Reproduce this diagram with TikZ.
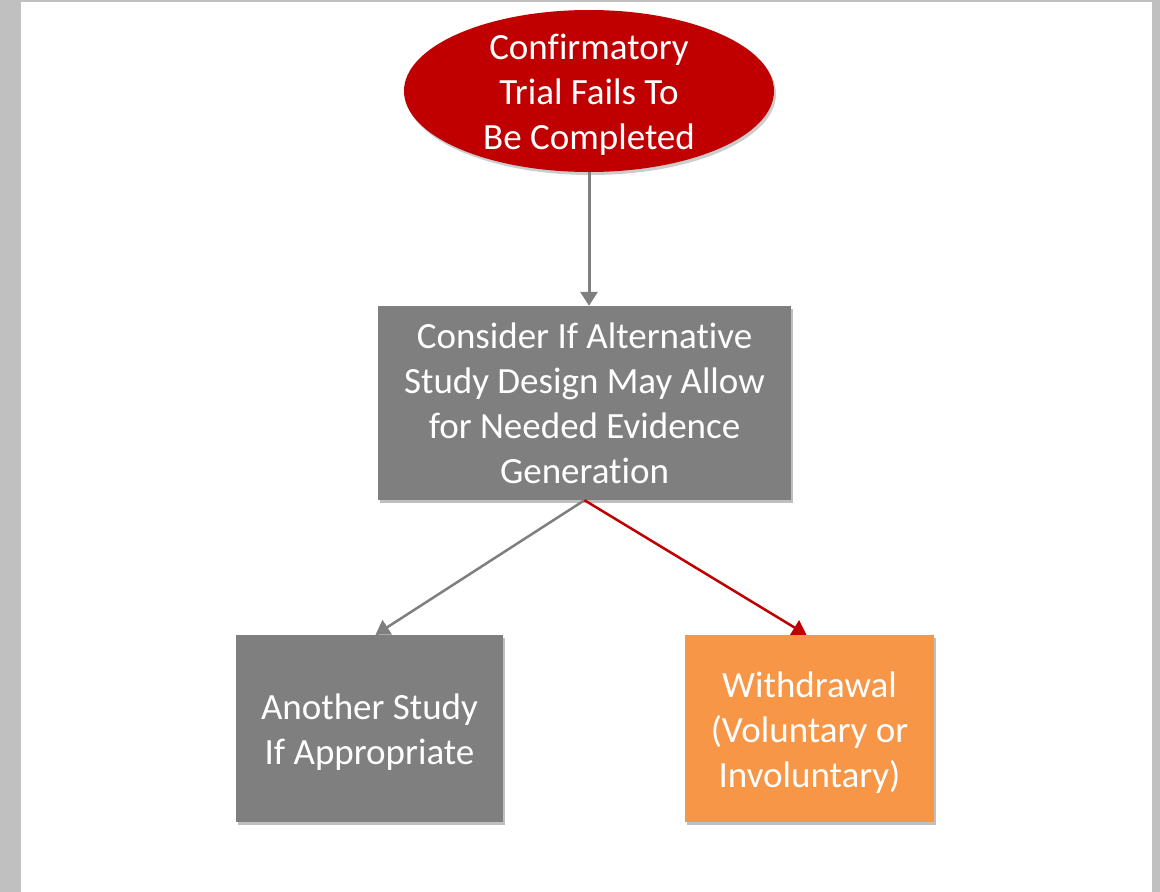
\documentclass[tikz,border=0pt]{standalone}
\usepackage{fontspec}
\setmainfont{Carlito}[Ligatures={NoCommon}]
\usetikzlibrary{arrows.meta,shapes.geometric,shadows}
\definecolor{cred}{HTML}{C00000}
\definecolor{cgray}{HTML}{7F7F7F}
\definecolor{corange}{HTML}{F79646}
\definecolor{cbg}{HTML}{C0C0C0}
\tikzset{
  boxtext/.style={text=white, align=center, font=\fontsize{37}{45}\selectfont, inner sep=0pt},
  rectnode/.style={rectangle, inner sep=0pt, drop shadow={shadow xshift=2pt, shadow yshift=-3pt, opacity=0.25, fill=black}},
  conn/.style={line width=2.5pt, -{Triangle[width=17pt,length=14pt]}},
}
\begin{document}
\begin{tikzpicture}[x=1pt,y=-1pt]
\fill[cbg] (0,0) rectangle (1160,892);
\fill[white] (21,2) rectangle (1152,892);
\useasboundingbox (0,0) rectangle (1160,892);

\node[ellipse, inner sep=0pt, fill=cred, minimum width=370pt, minimum height=162pt,
      drop shadow={shadow xshift=2pt, shadow yshift=-3pt, opacity=0.2, fill=black},
      label={[boxtext, yshift=-4pt]center:{Confirmatory\\Trial Fails To\\Be Completed}}]
  (top) at (589,91) {};

\node[rectnode, fill=cgray, minimum width=413pt, minimum height=194pt,
      label={[boxtext, yshift=0pt]center:{Consider If Alternative\\Study Design May Allow\\for Needed Evidence\\Generation}}]
  (mid) at (584.5,403) {};

\node[rectnode, fill=cgray, minimum width=267pt, minimum height=187pt,
      label={[boxtext, yshift=-3.5pt]center:{Another Study\\If Appropriate}}]
  (left) at (369.5,728.5) {};

\node[rectnode, fill=corange, minimum width=249pt, minimum height=187pt,
      label={[boxtext, yshift=-4.5pt]center:{Withdrawal\\(Voluntary or\\Involuntary)}}]
  (right) at (809.5,728.5) {};

\coordinate (midb) at (mid.south);
\draw[conn, cgray, line width=3pt] (top.south) -- (top.south |- mid.north);
\draw[conn, cgray] (midb) -- ([xshift=6pt]left.north);
\draw[conn, cred] (midb) -- ([xshift=-3pt]right.north);
\end{tikzpicture}
\end{document}
